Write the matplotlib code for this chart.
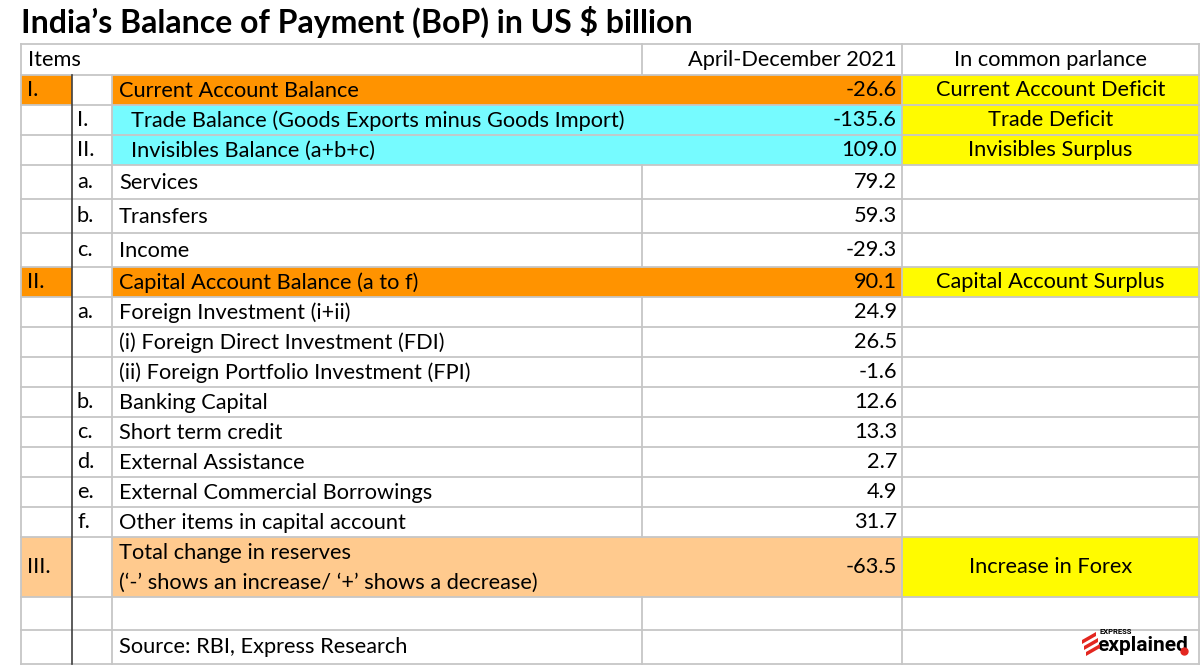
import matplotlib.pyplot as plt
from matplotlib.patches import Rectangle, Polygon

plt.rcParams["font.family"] = ["Lato", "DejaVu Sans"]

# Table data
title = "India\u2019s Balance of Payment (BoP) in US $ billion"
headers = ["Items", "April-December 2021", "In common parlance"]
roman = ["I.", "", "", "", "", "", "II.", "", "", "", "", "", "", "", "", "III."]
sub = ["", "I.", "II.", "a.", "b.", "c.", "", "a.", "", "", "b.", "c.", "d.", "e.", "f.", ""]
items = [
    "Current Account Balance",
    "Trade Balance (Goods Exports minus Goods Import)",
    "Invisibles Balance (a+b+c)",
    "Services",
    "Transfers",
    "Income",
    "Capital Account Balance (a to f)",
    "Foreign Investment (i+ii)",
    "(i) Foreign Direct Investment (FDI)",
    "(ii) Foreign Portfolio Investment (FPI)",
    "Banking Capital",
    "Short term credit",
    "External Assistance",
    "External Commercial Borrowings",
    "Other items in capital account",
    "Total change in reserves\n(\u2018-\u2019 shows an increase/ \u2018+\u2019 shows a decrease)",
]
values = [-26.6, -135.6, 109.0, 79.2, 59.3, -29.3, 90.1, 24.9, 26.5, -1.6,
          12.6, 13.3, 2.7, 4.9, 31.7, -63.5]
parlance = ["Current Account Deficit", "Trade Deficit", "Invisibles Surplus", "", "", "",
            "Capital Account Surplus", "", "", "", "", "", "", "", "", "Increase in Forex"]
source = "Source: RBI, Express Research"

# Styling / layout
row_style = ["main", "sub", "sub", "", "", "", "main", "", "", "", "", "", "", "", "", "total"]
fills = {"main": "#FF9300", "sub": "#76FBFF", "total": "#FFCA8E"}
yellow = "#FFFB00"
grid = "#C6C6C6"
col_x = [21, 72, 112, 642, 902, 1199]
row_y = [44, 75, 105, 135, 165, 199, 233, 267, 297, 327, 357, 387, 417, 447, 477,
         507, 537, 597, 630, 664]
fs = 15.7

fig = plt.figure(figsize=(12, 6.65), dpi=100)
ax = fig.add_axes([0, 0, 1, 1])
ax.set_xlim(0, 1200)
ax.set_ylim(665, 0)
ax.axis("off")

ax.text(21, 22, title, fontsize=23, fontweight="bold", va="center", ha="left")

# header row
hy = (row_y[0] + row_y[1]) / 2
ax.text(col_x[0] + 7, hy, headers[0], fontsize=fs, va="center")
ax.text(col_x[4] - 5, hy, headers[1], fontsize=fs, va="center", ha="right")
ax.text((col_x[4] + col_x[5]) / 2, hy, headers[2], fontsize=fs, va="center", ha="center")

for i in range(len(items)):
    y0, y1 = row_y[i + 1], row_y[i + 2]
    yc = (y0 + y1) / 2
    style = row_style[i]
    if style:
        c = fills[style]
        if style != "sub":
            ax.add_patch(Rectangle((col_x[0], y0), col_x[1] - col_x[0], y1 - y0, color=c, lw=0))
        ax.add_patch(Rectangle((col_x[2], y0), col_x[4] - col_x[2], y1 - y0, color=c, lw=0))
        ax.add_patch(Rectangle((col_x[4], y0), col_x[5] - col_x[4], y1 - y0, color=yellow, lw=0))
    else:
        ax.plot([col_x[3], col_x[3]], [y0, y1], color=grid, lw=1.3, zorder=3)
    indent = 19 if style == "sub" else 7
    ax.text(col_x[0] + 6, yc, roman[i], fontsize=fs, va="center")
    ax.text(col_x[1] + 5, yc, sub[i], fontsize=fs, va="center")
    ax.text(col_x[2] + indent, yc + 1, items[i], fontsize=fs, va="center", linespacing=1.6)
    ax.text(col_x[4] - 5, yc, f"{values[i]:.1f}", fontsize=fs, va="center", ha="right")
    ax.text((col_x[4] + col_x[5]) / 2, yc, parlance[i], fontsize=fs, va="center", ha="center")

# empty + source rows
for y0, y1 in [(row_y[-3], row_y[-2]), (row_y[-2], row_y[-1])]:
    ax.plot([col_x[3], col_x[3]], [y0, y1], color=grid, lw=1.3, zorder=3)
ax.text(col_x[2] + 7, (row_y[-2] + row_y[-1]) / 2, source, fontsize=fs, va="center")

# grid lines
for y in row_y:
    ax.plot([col_x[0], col_x[5]], [y, y], color=grid, lw=1.3, zorder=3)
for x in [col_x[0], col_x[5]]:
    ax.plot([x, x], [row_y[0], row_y[-1]], color=grid, lw=1.3, zorder=3)
ax.plot([col_x[4], col_x[4]], [row_y[0], row_y[-1]], color=grid, lw=1.3, zorder=3)
ax.plot([col_x[3], col_x[3]], [row_y[0], row_y[1]], color=grid, lw=1.3, zorder=3)
ax.plot([col_x[2], col_x[2]], [row_y[1], row_y[-1]], color=grid, lw=1.3, zorder=3)
ax.plot([col_x[1], col_x[1]], [row_y[1], row_y[-1]], color="#404040", lw=1.2, zorder=4)

# logo
lx, ly = 1082, 652
for k in range(3):
    ax.add_patch(Polygon([(lx + k * 2, ly - 12 + k * 6), (lx + 14 + k * 2, ly - 20 + k * 6),
                          (lx + 14 + k * 2, ly - 16 + k * 6), (lx + k * 2, ly - 8 + k * 6)],
                         color="#E3261F", lw=0, zorder=5))
ax.text(1099, 634.5, "EXPRESS", fontsize=5.5, fontweight="bold", va="baseline", ha="left",
        family=["Roboto", "DejaVu Sans"])
ax.text(1097, 636, "explained", fontsize=15, fontweight="bold", va="top", ha="left",
        family=["Roboto", "DejaVu Sans"])
ax.plot([1184], [651], "o", color="#E3261F", ms=5, zorder=5)

fig.savefig("out.png", dpi=100)
